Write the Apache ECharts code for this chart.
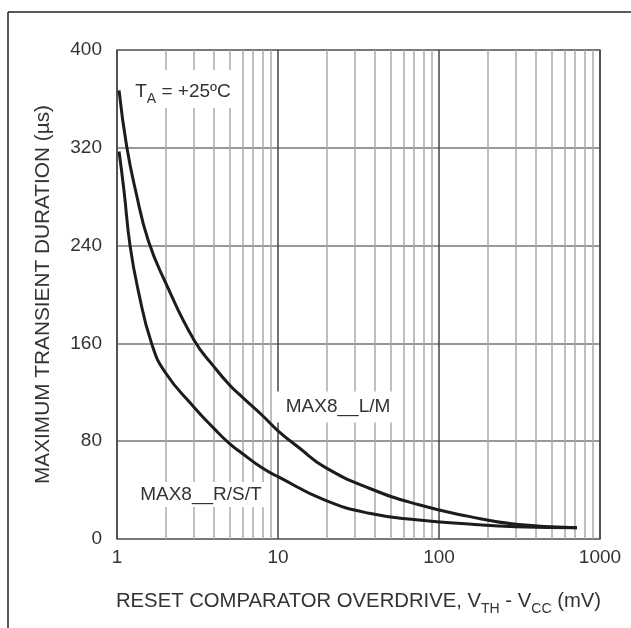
<!DOCTYPE html>
<html>
<head>
<meta charset="utf-8">
<script src="https://cdn.jsdelivr.net/npm/echarts@6/dist/echarts.min.js"></script>
<style>
html,body{margin:0;padding:0;background:#fff;}
#c{width:631px;height:628px;}
</style>
</head>
<body>
<div id="c"></div>
<script>
// Data
const lmX  = [1.03, 1.149, 1.31, 1.565, 2.0, 3.0, 4.0, 5.0, 6.0, 8.0, 10, 13.7, 19.4, 36.9, 75, 153, 300, 720];
const lmY  = [367, 321, 284, 244, 210, 163, 141, 126, 116, 101, 88.5, 74, 59, 41.5, 28, 18.5, 12, 9.2];
const rstX = [1.03, 1.105, 1.205, 1.356, 1.64, 2.0, 3.0, 4.0, 5.0, 6.0, 8.0, 10, 19.4, 36.9, 75, 153, 300, 720];
const rstY = [317, 285, 240, 203, 160, 136, 108, 90.5, 78, 70, 58, 51, 32, 21, 15.5, 12.2, 10, 9.2];
const minorX = [2,3,4,5,6,7,8,9,20,30,40,50,60,70,80,90,200,300,400,500,600,700,800,900];
const yTicks = [0, 80, 160, 240, 320, 400];
const xTicks = [1, 10, 100, 1000];

const FONT = 'Liberation Sans, Arial, sans-serif';
const TXT = '#333';
const FS = 19;

const chart = echarts.init(document.getElementById('c'), null, {renderer:'canvas'});
const zip = (xs, ys) => xs.map((x, i) => [x, ys[i]]);

const mkRich = (fs) => ({
  n:{fontFamily:FONT, fontSize:fs, color:TXT, lineHeight:24, verticalAlign:'bottom'},
  s:{fontFamily:FONT, fontSize:14, color:TXT, lineHeight:24, verticalAlign:'bottom', padding:[0,0,-5,0]}
});

chart.setOption({
  animation: false,
  backgroundColor: '#fff',
  graphic: [
    {type:'line', shape:{x1:8, y1:12, x2:640, y2:12}, style:{stroke:'#222', lineWidth:1.5}},
    {type:'line', shape:{x1:8, y1:12, x2:8, y2:640}, style:{stroke:'#222', lineWidth:1.5}}
  ],
  grid: {left:117, right:31, top:50, bottom:89, show:true, borderColor:'#555', borderWidth:1.5, backgroundColor:'transparent'},
  xAxis: {
    type:'log', logBase:10, min:1, max:1000,
    axisLine:{show:false}, axisTick:{show:false},
    splitLine:{show:true, lineStyle:{color:'#444', width:1.5}},
    minorTick:{show:false}, minorSplitLine:{show:false},
    axisLabel:{fontFamily:FONT, fontSize:FS, color:TXT, margin:9,
      formatter: v => xTicks.includes(Math.round(v)) ? String(Math.round(v)) : ''},
    name:'{n|RESET COMPARATOR OVERDRIVE, V}{s|TH}{n| - V}{s|CC}{n| (mV)}',
    nameLocation:'middle', nameGap:48,
    nameTextStyle:{rich:mkRich(20.3)}
  },
  yAxis: {
    type:'value', min:0, max:400, interval:80,
    axisLine:{show:false}, axisTick:{show:false},
    splitLine:{show:true, lineStyle:{color:'#777', width:1.5}},
    axisLabel:{fontFamily:FONT, fontSize:FS, color:TXT, margin:15,
      formatter: v => yTicks.includes(v) ? String(v) : ''},
    name:'MAXIMUM TRANSIENT DURATION (µs)',
    nameLocation:'middle', nameGap:63,
    nameTextStyle:{fontFamily:FONT, fontSize:20.8, color:TXT}
  },
  series: [
    {
      type:'line', data:[], z:1, silent:true,
      markLine:{
        silent:true, symbol:'none', label:{show:false},
        lineStyle:{color:'#aaa', width:1.5, type:'solid'},
        data: minorX.map(v => ({xAxis: v}))
      }
    },
    {
      name:'MAX8__L/M', type:'line', data: zip(lmX, lmY), z:5,
      showSymbol:false, smooth:0.5, lineStyle:{color:'#1c1c1c', width:3}
    },
    {
      name:'MAX8__R/S/T', type:'line', data: zip(rstX, rstY), z:5,
      showSymbol:false, smooth:0.5, lineStyle:{color:'#1c1c1c', width:3}
    },
    {
      type:'line', data:[], z:10,
      markPoint:{
        symbol:'rect', symbolSize:1, itemStyle:{color:'rgba(0,0,0,0)'},
        label:{show:true, position:'inside', backgroundColor:'#fff'},
        data:[
          {coord:[2.57, 368], value:0, label:{
            formatter:'{n|T}{s|A}{n| = +25ºC}', rich:mkRich(FS), padding:[7,7,7,7]}},
          {coord:[23.6, 108], value:0, label:{formatter:'MAX8__L/M', fontFamily:FONT, fontSize:FS, color:TXT, padding:[7,10,5,10]}},
          {coord:[3.32, 36.5], value:0, label:{formatter:'MAX8__R/S/T', fontFamily:FONT, fontSize:FS, color:TXT, padding:[3,6,3,6]}}
        ]
      }
    }
  ]
});
</script>
</body>
</html>
